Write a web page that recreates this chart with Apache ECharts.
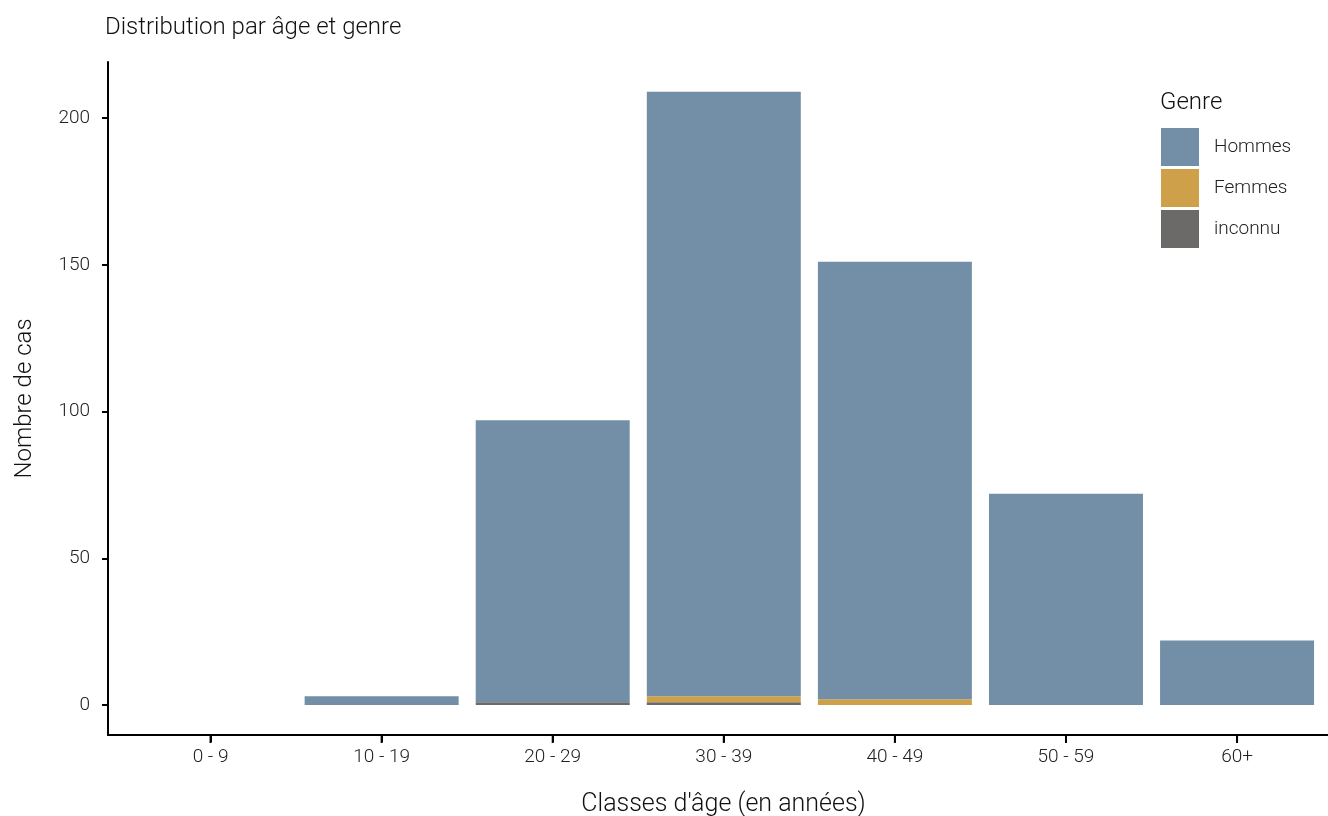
<!DOCTYPE html>
<html><head><meta charset="utf-8">
<script src="https://cdn.jsdelivr.net/npm/echarts@6/dist/echarts.min.js"></script>
<style>html,body{margin:0;padding:0;background:#fff}#c{width:1328px;height:816px}</style>
</head><body><div id="c"></div>
<script>
const categories = ['0 - 9','10 - 19','20 - 29','30 - 39','40 - 49','50 - 59','60+'];
const hommes  = [0, 3, 96, 206, 149, 72, 22];
const femmes  = [0, 0, 0, 2, 2, 0, 0];
const inconnu = [0, 0, 1, 1, 0, 0, 0];
const yTicks = [0, 50, 100, 150, 200];
const colors = {Hommes:'#728FA7', Femmes:'#CFA04A', inconnu:'#6B6A68'};
const FONT = 'Roboto';
const TXT = '#222';
const chart = echarts.init(document.getElementById('c'), null, {renderer:'canvas'});
const mk = (name, arr) => ({
  name, type:'bar', stack:'total', data: arr, barWidth:154,
  xAxisIndex:1, yAxisIndex:1,
  itemStyle:{color: colors[name]}, emphasis:{disabled:true}
});
const Y_MIN = -10.2, Y_MAX = 219.1;
const X_MIN = -0.5994, X_MAX = 6.5316;
const idx = categories.map((_, i) => i);
chart.setOption({
  animation:false,
  textStyle:{fontFamily:FONT},
  title:[
    {text:'Distribution par âge et genre', left:105, top:16, padding:0,
     textStyle:{fontFamily:FONT, fontWeight:300, fontSize:24, color:'#111'}},
    {text:'Genre', left:1160, top:91, padding:0,
     textStyle:{fontFamily:FONT, fontWeight:300, fontSize:24, color:'#111'}}
  ],
  legend:{
    orient:'vertical', left:1161, top:128, padding:0, itemWidth:38, itemHeight:38, itemGap:3,
    icon:'rect', data:['Hommes','Femmes','inconnu'], selectedMode:false,
    textStyle:{fontFamily:FONT, fontWeight:300, fontSize:19, color:TXT, padding:[2,0,0,10]}
  },
  grid:[
    {left:108, right:0, top:62, bottom:81, containLabel:false, outerBoundsMode:'none'},
    {left:125, right:5.4, top:62, bottom:81, containLabel:false, outerBoundsMode:'none'}
  ],
  xAxis:[
    {type:'value', gridIndex:0, min:X_MIN, max:X_MAX, position:'bottom',
     name:"Classes d'âge (en années)", nameLocation:'middle', nameGap:57,
     nameTextStyle:{fontFamily:FONT, fontWeight:300, fontSize:25, color:'#111', padding:[0,0,0,11]},
     axisLine:{show:true, onZero:false, lineStyle:{color:'#000', width:2}},
     axisTick:{show:true, inside:false, customValues:idx, length:7, lineStyle:{color:'#000', width:2}},
     axisLabel:{show:true, customValues:idx, formatter:v => categories[Math.round(v)], margin:13,
       fontFamily:FONT, fontWeight:300, fontSize:19, color:TXT},
     splitLine:{show:false}},
    {type:'category', gridIndex:1, data:categories, show:false}
  ],
  yAxis:[
    {type:'value', gridIndex:0, min:Y_MIN, max:Y_MAX,
     name:'Nombre de cas', nameLocation:'middle', nameGap:71, nameRotate:90,
     nameTextStyle:{fontFamily:FONT, fontWeight:300, fontSize:24, color:'#111'},
     axisLine:{show:true, onZero:false, lineStyle:{color:'#000', width:2}},
     axisTick:{show:true, customValues:yTicks, length:6, lineStyle:{color:'#000', width:2}},
     axisLabel:{customValues:yTicks, margin:18, fontFamily:FONT, fontWeight:300, fontSize:19, color:TXT},
     splitLine:{show:false}},
    {type:'value', gridIndex:1, min:Y_MIN, max:Y_MAX, show:false, splitLine:{show:false}}
  ],
  series:[
    mk('inconnu', inconnu), mk('Femmes', femmes), mk('Hommes', hommes),
    {type:'scatter', name:'ticks', xAxisIndex:0, yAxisIndex:0,
     data: idx.map(i => [i, Y_MIN]), symbol:'rect', symbolSize:[2, 8], symbolOffset:[0, 4],
     itemStyle:{color:'#000', opacity:1}, clip:false, silent:true, z:20, zlevel:1,
     emphasis:{disabled:true}}
  ]
});
</script></body></html>
